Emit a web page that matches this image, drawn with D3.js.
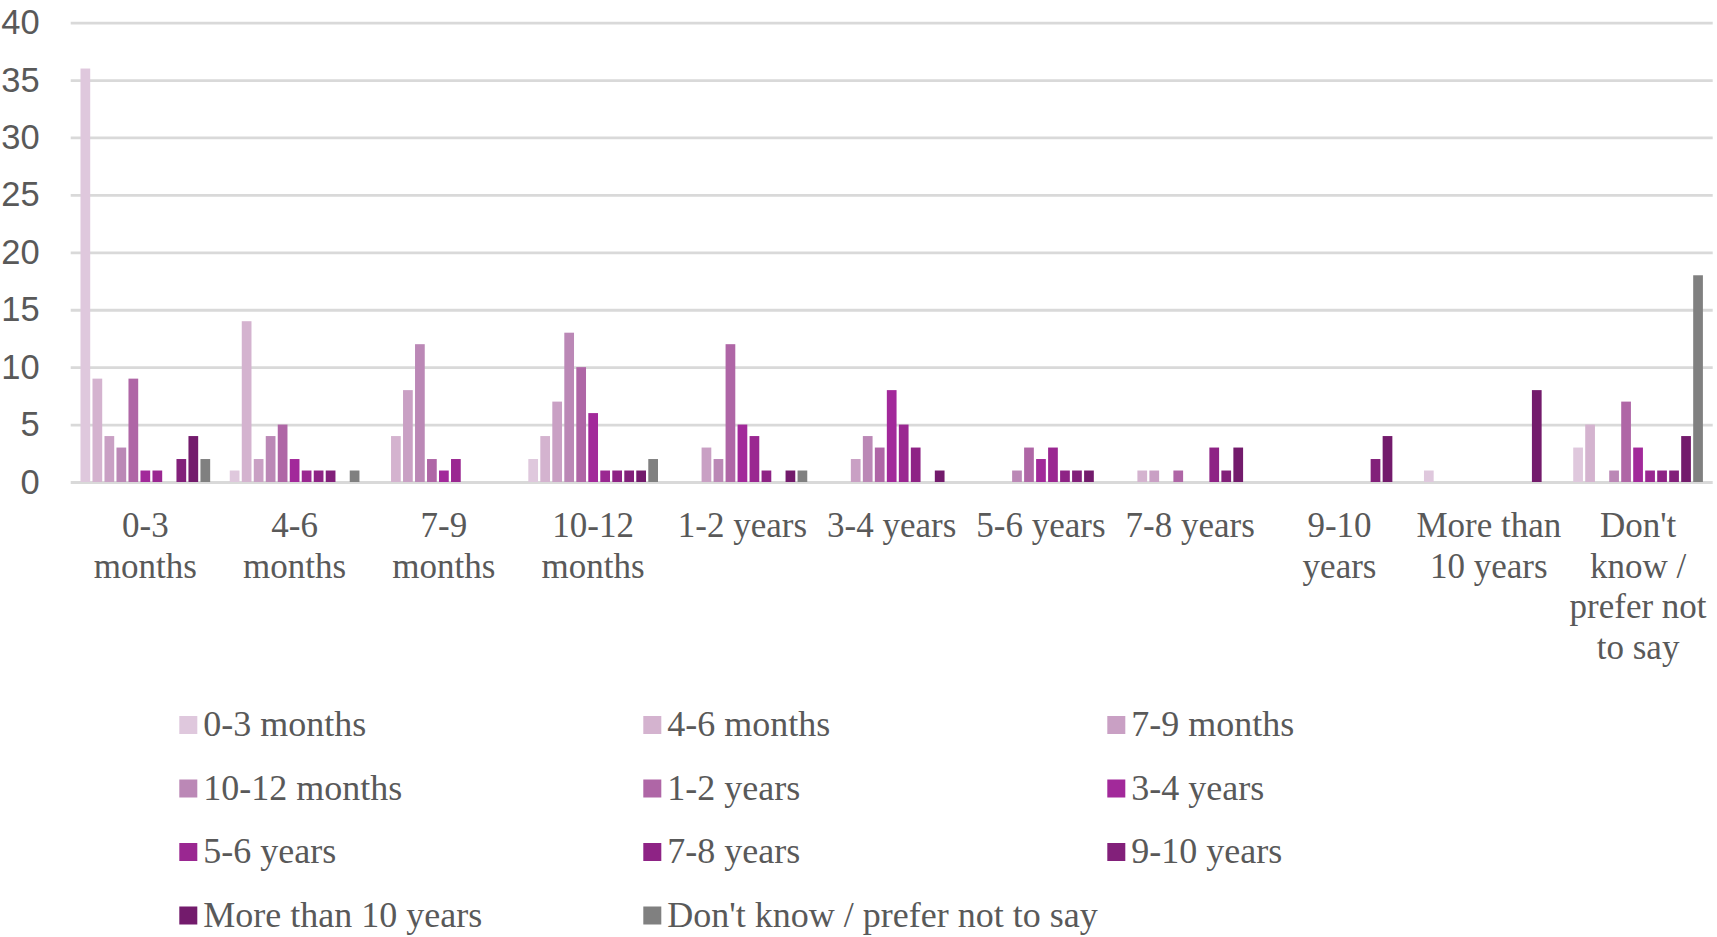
<!DOCTYPE html>
<html>
<head>
<meta charset="utf-8">
<script src="https://cdn.jsdelivr.net/npm/d3@7"></script>
<style>
  html, body { margin: 0; padding: 0; background: #ffffff; }
  svg { display: block; }
</style>
</head>
<body>
<svg id="chart" width="1717" height="937"></svg>
<script>
// ---------- DATA ----------
const categories = ["0-3 months", "4-6 months", "7-9 months", "10-12 months", "1-2 years", "3-4 years",
  "5-6 years", "7-8 years", "9-10 years", "More than 10 years", "Don't know / prefer not to say"];
const categoryLabelLines = [
  ["0-3", "months"], ["4-6", "months"], ["7-9", "months"], ["10-12", "months"],
  ["1-2 years"], ["3-4 years"], ["5-6 years"], ["7-8 years"],
  ["9-10", "years"], ["More than", "10 years"], ["Don't", "know /", "prefer not", "to say"]
];
const seriesNames = ["0-3 months", "4-6 months", "7-9 months", "10-12 months", "1-2 years", "3-4 years",
  "5-6 years", "7-8 years", "9-10 years", "More than 10 years", "Don't know / prefer not to say"];
const seriesColors = ["#dfc8dd", "#d4b3cf", "#c9a0c4", "#bb88b6", "#af66a6", "#a2299a",
  "#9a2791", "#8e2385", "#82207a", "#731b6c", "#808080"];

const s_0_3m   = [36, 1, 0, 2, 0, 0, 0, 0, 0, 1, 3];
const s_4_6m   = [9, 14, 4, 4, 0, 0, 0, 1, 0, 0, 5];
const s_7_9m   = [4, 2, 8, 7, 3, 2, 0, 1, 0, 0, 0];
const s_10_12m = [3, 4, 12, 13, 2, 4, 1, 0, 0, 0, 1];
const s_1_2y   = [9, 5, 2, 10, 12, 3, 3, 1, 0, 0, 7];
const s_3_4y   = [1, 2, 1, 6, 5, 8, 2, 0, 0, 0, 3];
const s_5_6y   = [1, 1, 2, 1, 4, 5, 3, 0, 0, 0, 1];
const s_7_8y   = [0, 1, 0, 1, 1, 3, 1, 3, 0, 0, 1];
const s_9_10y  = [2, 1, 0, 1, 0, 0, 1, 1, 2, 0, 1];
const s_gt10y  = [4, 0, 0, 1, 1, 1, 1, 3, 4, 8, 4];
const s_dk     = [2, 1, 0, 2, 1, 0, 0, 0, 0, 0, 18];
const seriesValues = [s_0_3m, s_4_6m, s_7_9m, s_10_12m, s_1_2y, s_3_4y, s_5_6y, s_7_8y, s_9_10y, s_gt10y, s_dk];

const yTicks = [0, 5, 10, 15, 20, 25, 30, 35, 40];

// ---------- LAYOUT ----------
const svg = d3.select("#chart");
const plot = { left: 70.7, right: 1712.7, top: 22.6, bottom: 482 };
const textColor = "#595959";
const gridColor = "#d9d9d9";

const x0 = d3.scaleBand().domain(categories).range([plot.left, plot.right])
  .paddingInner(0.116).paddingOuter(0.058);
const x1 = d3.scaleBand().domain(seriesNames).range([0, x0.bandwidth()])
  .paddingInner(0.19).paddingOuter(0.095);
const y = d3.scaleLinear().domain([0, 40]).range([plot.bottom, plot.top]);

// gridlines
const grid = svg.append("g").attr("transform", `translate(${plot.left},0)`)
  .call(d3.axisLeft(y).tickValues(yTicks).tickSize(-(plot.right - plot.left)).tickFormat(""));
grid.select(".domain").remove();
grid.selectAll("line").attr("stroke", gridColor).attr("stroke-width", 2.8);

// y axis labels
const yAxis = svg.append("g").attr("transform", `translate(${plot.left},0)`)
  .call(d3.axisLeft(y).tickValues(yTicks).tickSize(0).tickPadding(31));
yAxis.select(".domain").remove();
yAxis.selectAll("text")
  .attr("fill", textColor)
  .style("font-family", "'Liberation Sans', Arial, sans-serif")
  .style("font-size", "34.5px");

// bars
const groups = svg.append("g").selectAll("g")
  .data(categories)
  .join("g")
  .attr("transform", d => `translate(${x0(d)},0)`);

groups.selectAll("rect")
  .data((c, ci) => seriesNames.map((s, si) => ({ s, si, v: seriesValues[si][ci] })))
  .join("rect")
  .attr("x", d => x1(d.s))
  .attr("width", x1.bandwidth())
  .attr("y", d => y(d.v))
  .attr("height", d => y(0) - y(d.v))
  .attr("fill", d => seriesColors[d.si]);

// x axis labels
const xAxis = svg.append("g").attr("transform", `translate(0,${plot.bottom})`)
  .call(d3.axisBottom(x0).tickSize(0).tickFormat(""));
xAxis.select(".domain").remove();
xAxis.selectAll(".tick").each(function (d, i) {
  const t = d3.select(this).append("text")
    .attr("text-anchor", "middle")
    .attr("fill", textColor)
    .style("font-family", "'Liberation Serif', 'Times New Roman', serif")
    .style("font-size", "35px");
  categoryLabelLines[i].forEach((line, li) => {
    t.append("tspan").attr("x", 0).attr("y", 55 + li * 40.5).text(line);
  });
});

// legend
const legend = svg.append("g");
const legCols = [179.3, 643.3, 1107.3];
const legRow0 = 716, legRowStep = 63.5, mk = 18;
seriesNames.forEach((name, i) => {
  const col = i % 3, row = Math.floor(i / 3);
  const gx = legCols[col], gy = legRow0 + row * legRowStep;
  const g = legend.append("g");
  g.append("rect").attr("x", gx).attr("y", gy).attr("width", mk).attr("height", mk)
    .attr("fill", seriesColors[i]);
  g.append("text").attr("x", gx + mk + 6).attr("y", gy + mk + 2)
    .attr("fill", textColor)
    .style("font-family", "'Liberation Serif', 'Times New Roman', serif")
    .style("font-size", "36px")
    .text(name);
});
</script>
</body>
</html>
